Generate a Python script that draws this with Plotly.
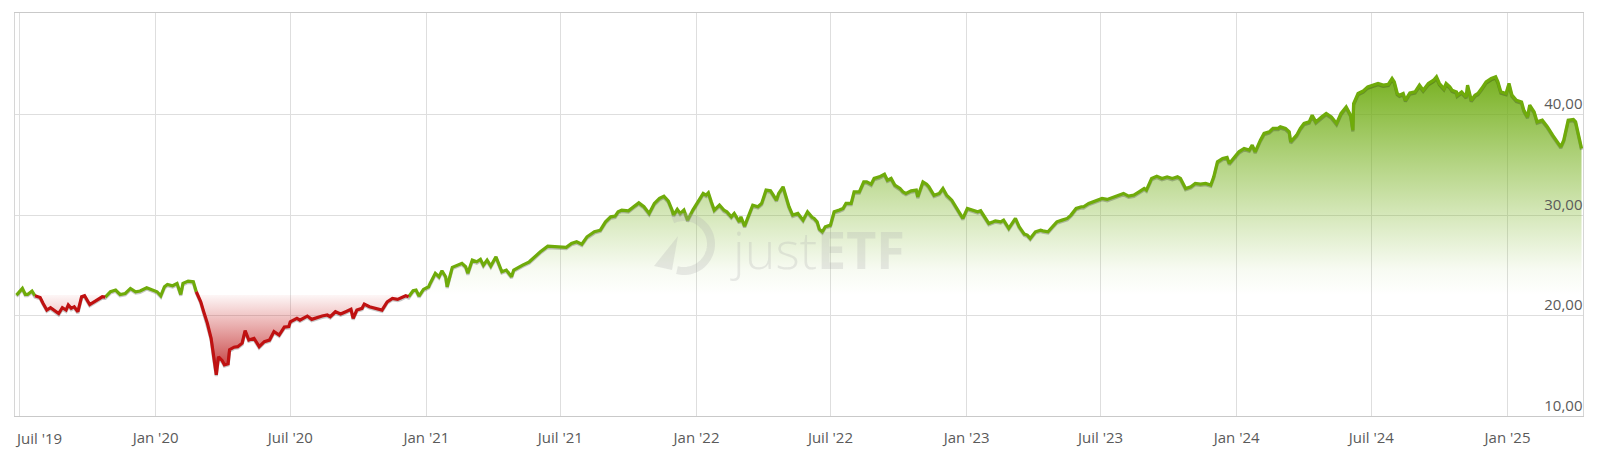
import numpy as np
import plotly.graph_objects as go

# ---------------- data ----------------
dates = [
    "2019-06-27", "2019-07-05", "2019-07-09", "2019-07-12", "2019-07-18", "2019-07-22", "2019-07-29",
    "2019-08-02", "2019-08-07", "2019-08-12", "2019-08-16", "2019-08-23", "2019-08-28",
    "2019-09-02", "2019-09-05", "2019-09-09", "2019-09-13", "2019-09-18", "2019-09-23", "2019-09-27",
    "2019-10-04", "2019-10-15", "2019-10-21", "2019-10-25", "2019-11-01", "2019-11-08", "2019-11-14",
    "2019-11-21", "2019-11-28", "2019-12-05", "2019-12-11", "2019-12-20", "2019-12-27",
    "2020-01-03", "2020-01-08", "2020-01-13", "2020-01-17", "2020-01-24", "2020-01-30",
    "2020-02-04", "2020-02-07", "2020-02-14", "2020-02-21", "2020-02-25",
    "2020-03-02", "2020-03-06", "2020-03-11", "2020-03-16", "2020-03-19", "2020-03-20", "2020-03-23",
    "2020-03-26", "2020-03-31", "2020-04-03", "2020-04-08", "2020-04-10", "2020-04-16", "2020-04-21",
    "2020-04-27", "2020-05-01", "2020-05-06", "2020-05-13", "2020-05-20", "2020-05-27",
    "2020-06-03", "2020-06-09", "2020-06-16", "2020-06-23", "2020-06-29",
    "2020-07-01", "2020-07-10", "2020-07-14", "2020-07-24", "2020-07-30", "2020-08-06", "2020-08-13",
    "2020-08-20", "2020-08-24", "2020-08-31", "2020-09-07", "2020-09-14", "2020-09-21", "2020-09-24",
    "2020-09-29", "2020-10-06", "2020-10-09", "2020-10-16", "2020-10-26", "2020-11-02", "2020-11-09",
    "2020-11-16", "2020-11-23", "2020-11-27", "2020-12-04", "2020-12-08", "2020-12-14", "2020-12-18",
    "2020-12-22", "2020-12-28",
    "2021-01-04", "2021-01-06", "2021-01-13", "2021-01-18", "2021-01-22", "2021-01-27", "2021-01-29",
    "2021-02-05", "2021-02-11", "2021-02-18", "2021-02-23", "2021-02-26", "2021-03-04", "2021-03-10",
    "2021-03-15", "2021-03-19", "2021-03-24", "2021-03-29", "2021-04-05", "2021-04-09", "2021-04-13",
    "2021-04-19", "2021-04-26", "2021-04-29", "2021-05-06", "2021-05-11", "2021-05-20", "2021-05-27",
    "2021-06-04", "2021-06-14", "2021-06-21", "2021-06-29", "2021-07-09", "2021-07-16", "2021-07-23",
    "2021-07-30", "2021-08-06", "2021-08-16", "2021-08-24", "2021-08-31", "2021-09-07", "2021-09-13",
    "2021-09-17", "2021-09-22", "2021-10-01", "2021-10-08", "2021-10-15", "2021-10-22", "2021-10-26",
    "2021-10-29", "2021-11-05", "2021-11-12", "2021-11-18", "2021-11-24", "2021-11-29", "2021-12-01",
    "2021-12-06", "2021-12-10", "2021-12-15", "2021-12-20", "2021-12-27",
    "2022-01-03", "2022-01-05", "2022-01-10", "2022-01-14", "2022-01-17", "2022-01-21", "2022-01-25",
    "2022-02-01", "2022-02-07", "2022-02-11", "2022-02-17", "2022-02-21", "2022-02-28", "2022-03-02",
    "2022-03-07", "2022-03-11", "2022-03-18", "2022-03-25", "2022-03-30", "2022-04-05", "2022-04-11",
    "2022-04-14", "2022-04-19", "2022-04-22", "2022-04-28", "2022-05-02", "2022-05-06", "2022-05-11",
    "2022-05-18", "2022-05-25", "2022-05-31", "2022-06-06", "2022-06-09", "2022-06-13", "2022-06-16",
    "2022-06-20", "2022-06-24", "2022-07-01", "2022-07-06", "2022-07-13", "2022-07-18", "2022-07-22",
    "2022-07-29", "2022-08-02", "2022-08-09", "2022-08-15", "2022-08-19", "2022-08-25", "2022-08-29",
    "2022-09-05", "2022-09-12", "2022-09-16", "2022-09-21", "2022-09-26", "2022-10-03", "2022-10-07",
    "2022-10-11", "2022-10-18", "2022-10-25", "2022-10-27", "2022-11-03", "2022-11-08", "2022-11-11",
    "2022-11-18", "2022-11-25", "2022-11-30", "2022-12-05", "2022-12-12", "2022-12-16", "2022-12-21",
    "2022-12-27",
    "2023-01-02", "2023-01-09", "2023-01-16", "2023-01-20", "2023-01-24", "2023-01-31", "2023-02-06",
    "2023-02-09", "2023-02-16", "2023-02-20", "2023-02-27", "2023-03-06", "2023-03-08", "2023-03-13",
    "2023-03-20", "2023-03-24", "2023-03-28", "2023-04-04", "2023-04-11", "2023-04-14", "2023-04-21",
    "2023-04-27", "2023-05-03", "2023-05-10", "2023-05-17", "2023-05-22", "2023-05-29", "2023-06-05",
    "2023-06-08", "2023-06-15", "2023-07-03", "2023-07-10", "2023-07-19", "2023-07-26", "2023-08-01",
    "2023-08-08", "2023-08-15", "2023-08-22", "2023-08-29", "2023-09-01", "2023-09-08", "2023-09-15",
    "2023-09-22", "2023-09-29", "2023-10-06", "2023-10-13", "2023-10-17", "2023-10-24", "2023-10-31",
    "2023-11-06", "2023-11-13", "2023-11-20", "2023-11-27", "2023-12-01", "2023-12-06", "2023-12-13",
    "2023-12-19", "2023-12-22", "2023-12-28",
    "2024-01-04", "2024-01-11", "2024-01-18", "2024-01-22", "2024-01-26", "2024-02-02", "2024-02-07",
    "2024-02-14", "2024-02-19", "2024-02-26", "2024-02-29", "2024-03-07", "2024-03-12", "2024-03-14",
    "2024-03-18", "2024-03-22", "2024-03-27", "2024-04-01", "2024-04-08", "2024-04-12", "2024-04-17",
    "2024-04-22", "2024-04-25", "2024-05-01", "2024-05-08", "2024-05-15", "2024-05-21", "2024-05-28",
    "2024-06-03", "2024-06-06", "2024-06-07", "2024-06-13", "2024-06-20", "2024-06-26", "2024-07-03",
    "2024-07-10", "2024-07-17", "2024-07-24", "2024-07-29", "2024-08-01", "2024-08-05", "2024-08-08",
    "2024-08-13", "2024-08-16", "2024-08-22", "2024-08-29", "2024-09-04", "2024-09-09", "2024-09-16",
    "2024-09-23", "2024-09-27", "2024-10-01", "2024-10-07", "2024-10-10", "2024-10-15", "2024-10-18",
    "2024-10-24", "2024-10-25", "2024-10-31", "2024-11-06", "2024-11-08", "2024-11-13", "2024-11-18",
    "2024-11-22", "2024-11-27", "2024-12-03", "2024-12-10", "2024-12-16", "2024-12-19", "2024-12-23",
    "2024-12-30",
    "2025-01-03", "2025-01-07", "2025-01-13", "2025-01-20", "2025-01-23", "2025-01-28", "2025-01-31",
    "2025-02-06", "2025-02-10", "2025-02-17", "2025-02-24", "2025-03-03", "2025-03-10", "2025-03-14",
    "2025-03-18", "2025-03-24", "2025-03-31", "2025-04-03", "2025-04-08", "2025-04-11",
]

values = [
    22.04, 22.70, 22.10, 22.10, 22.44, 21.97, 21.80,
    21.20, 20.55, 20.78, 20.55, 20.20, 20.78,
    20.55, 21.05, 20.72, 20.88, 20.38, 21.87, 21.97,
    21.10, 21.54, 21.87, 21.84, 22.37, 22.54, 22.10,
    22.20, 22.70, 22.37, 22.44, 22.77, 22.54,
    22.37, 21.97, 22.87, 23.10, 22.97, 23.20,
    22.10, 23.20, 23.43, 23.36, 22.37,
    21.37, 20.38, 19.22, 17.73, 16.07, 15.40, 14.10,
    15.90, 15.50, 15.10, 15.20, 16.60, 16.85, 16.90,
    17.25, 18.50, 17.56, 17.73, 16.90, 17.40,
    17.56, 18.40, 18.06, 18.85, 18.90,
    19.38, 19.72, 19.55, 19.95, 19.62, 19.82, 19.95,
    20.05, 19.88, 20.38, 20.15, 20.38, 20.62, 19.72,
    20.55, 20.72, 21.14, 20.88, 20.70, 20.55, 21.37,
    21.71, 21.61, 21.71, 21.97, 21.87, 22.47, 22.54,
    21.94, 22.60,
    22.87, 23.20, 24.20, 23.86, 24.46, 23.86, 22.87,
    24.80, 25.02, 25.20, 24.86, 24.20, 25.52, 25.35,
    25.60, 25.02, 25.52, 24.93, 25.85, 25.19, 24.36,
    24.53, 23.86, 24.53, 24.86, 25.02, 25.35, 25.85,
    26.35, 26.90, 26.85, 26.79, 26.79, 27.18, 27.34,
    27.11, 27.84, 28.34, 28.50, 29.33, 29.83, 29.90,
    30.33, 30.50, 30.43, 30.83, 31.22, 30.83, 30.50,
    30.17, 31.16, 31.66, 31.89, 31.40, 30.50, 30.00,
    30.57, 30.17, 30.50, 29.50, 30.50,
    31.32, 31.66, 32.16, 31.99, 32.22, 31.32, 30.50,
    31.00, 30.50, 30.33, 29.83, 30.17, 29.33, 29.83,
    28.90, 29.67, 30.99, 30.83, 31.16, 32.49, 32.42,
    32.09, 31.49, 32.16, 32.82, 31.82, 30.83, 30.00,
    30.17, 29.50, 30.33, 29.80, 29.67, 29.33, 28.60,
    28.34, 28.84, 29.00, 30.33, 30.50, 30.66, 31.16,
    31.16, 32.32, 32.32, 33.31, 33.31, 33.08, 33.65,
    33.81, 34.07, 33.48, 33.65, 32.99, 32.65, 32.32,
    32.16, 32.42, 32.49, 31.82, 33.31, 33.08, 32.82,
    31.97, 32.16, 32.65, 31.99, 31.49, 30.99, 30.50,
    29.67,
    30.66, 30.50, 30.33, 30.43, 30.00, 29.17, 29.33,
    29.43, 29.33, 29.50, 28.68, 29.50, 29.67, 28.84,
    28.11, 28.01, 27.68, 28.34, 28.50, 28.43, 28.34,
    28.84, 29.33, 29.50, 29.67, 30.00, 30.66, 30.83,
    30.83, 31.16, 31.66, 31.56, 31.82, 31.99, 32.16,
    31.89, 31.99, 32.32, 32.65, 32.49, 33.65, 33.88,
    33.65, 33.81, 33.65, 33.81, 33.65, 32.65, 32.82,
    33.15, 33.08, 33.15, 32.99, 33.81, 35.30, 35.64,
    35.74, 35.14, 35.64,
    36.30, 36.63, 36.47, 36.97, 36.30, 37.46, 38.13,
    38.29, 38.63, 38.63, 38.79, 38.63, 38.29, 37.30,
    37.63, 37.96, 38.63, 39.12, 39.28, 39.95, 39.28,
    39.62, 39.78, 40.12, 39.78, 39.12, 40.12, 40.78,
    39.95, 38.46, 41.11, 42.11, 42.37, 42.77, 42.94,
    43.10, 42.94, 43.03, 43.60, 43.27, 42.11, 41.94,
    42.11, 41.44, 42.17, 42.27, 42.94, 42.44, 43.10,
    43.43, 43.77, 43.10, 42.60, 43.10, 42.77, 42.44,
    42.27, 41.94, 42.27, 41.77, 42.94, 41.44, 41.94,
    42.11, 42.60, 43.27, 43.60, 43.77, 43.27, 42.27,
    42.11,
    43.10, 41.94, 41.44, 41.27, 40.45, 39.78, 40.95,
    40.28, 39.28, 39.45, 38.79, 37.96, 37.30, 36.80,
    37.46, 39.45, 39.52, 39.28, 37.63, 36.63,
]

x_tick_dates = ["2019-07-01", "2020-01-01", "2020-07-01", "2021-01-01", "2021-07-01", "2022-01-01",
                "2022-07-01", "2023-01-01", "2023-07-01", "2024-01-01", "2024-07-01", "2025-01-01"]
x_tick_labels = ["Juil '19", "Jan '20", "Juil '20", "Jan '21", "Juil '21", "Jan '22",
                 "Juil '22", "Jan '23", "Juil '23", "Jan '24", "Juil '24", "Jan '25"]
y_tick_values = [10, 20, 30, 40]
y_tick_labels = ["10,00", "20,00", "30,00", "40,00"]

# ---------------- styling ----------------
GREEN = "#6fab0a"
RED = "#bf1111"
GRID = "#dedede"
TEXT = "#5a5a5a"
FONT = "Open Sans"

vals = np.array(values, dtype=float)
base = float(vals[0])
vmax = float(vals.max())
vmin = float(vals.min())
n = len(vals)

upper = np.maximum(vals, base)
lower = np.minimum(vals, base)

# split line into green (>= start value) and red (< start value) runs
seg_col = ["g" if (vals[i] + vals[i + 1]) / 2 >= base else "r" for i in range(n - 1)]


def runs(code):
    xs, ys = [], []
    i = 0
    while i < n - 1:
        if seg_col[i] == code:
            j = i
            while j < n - 1 and seg_col[j] == code:
                j += 1
            xs += dates[i:j + 1] + [None]
            ys += list(vals[i:j + 1]) + [None]
            i = j
        else:
            i += 1
    return xs, ys


gx, gy = runs("g")
rx, ry = runs("r")

fig = go.Figure()

# green area (baseline -> price)
fig.add_trace(go.Scatter(x=dates, y=[base] * n, mode="lines", line=dict(width=0),
                         hoverinfo="skip", showlegend=False))
fig.add_trace(go.Scatter(
    x=dates, y=upper, mode="lines", line=dict(width=0), fill="tonexty",
    fillgradient=dict(type="vertical",
                      colorscale=[[0, "rgba(120,180,30,0.0)"], [0.12, "rgba(120,180,30,0.06)"],
                                  [1, "rgba(108,170,14,0.92)"]],
                      start=base, stop=vmax),
    hoverinfo="skip", showlegend=False))

# red area (price -> baseline)
fig.add_trace(go.Scatter(x=dates, y=[base] * n, mode="lines", line=dict(width=0),
                         hoverinfo="skip", showlegend=False))
fig.add_trace(go.Scatter(
    x=dates, y=lower, mode="lines", line=dict(width=0), fill="tonexty",
    fillgradient=dict(type="vertical",
                      colorscale=[[0, "rgba(180,20,20,0.88)"], [1, "rgba(205,40,40,0.04)"]],
                      start=vmin, stop=base),
    hoverinfo="skip", showlegend=False))

# soft drop shadow under the line
fig.add_trace(go.Scatter(x=dates, y=vals - 0.13, mode="lines",
                         line=dict(color="rgba(0,0,0,0.22)", width=3.2),
                         hoverinfo="skip", showlegend=False))

fig.add_trace(go.Scatter(x=gx, y=gy, mode="lines", line=dict(color=GREEN, width=3.2),
                         connectgaps=False, showlegend=False))
fig.add_trace(go.Scatter(x=rx, y=ry, mode="lines", line=dict(color=RED, width=3.2),
                         connectgaps=False, showlegend=False))

# ---------------- watermark ----------------
PL, PR, PT, PB = 15, 1583, 13, 416


def pp(px, py):
    return (px - PL) / (PR - PL), (PB - py) / (PB - PT)


wm = "rgba(175,175,175,0.26)"
ang = np.linspace(np.deg2rad(115), np.deg2rad(-105), 40)
cx, cy, r = 684, 244, 27
pts = [pp(cx + r * np.cos(a), cy - r * np.sin(a)) for a in ang]
arc = "M " + " L ".join(f"{x:.5f},{y:.5f}" for x, y in pts)
fig.add_shape(type="path", path=arc, xref="paper", yref="paper",
              line=dict(color=wm, width=8), layer="above")
tri = [pp(654, 266), pp(678, 236), pp(672, 270)]
fig.add_shape(type="path", path="M " + " L ".join(f"{x:.5f},{y:.5f}" for x, y in tri) + " Z",
              xref="paper", yref="paper", line=dict(width=0), fillcolor=wm, layer="above")
tx, ty = pp(817, 248)
fig.add_annotation(x=tx, y=ty, xref="paper", yref="paper", text="just<b>ETF</b>",
                   showarrow=False, xanchor="center", yanchor="middle",
                   font=dict(family=FONT, size=52, color=wm, weight=300))

# first x label is pushed inside the chart edge (as in the reference)
shown_labels = [""] + x_tick_labels[1:]
fig.add_annotation(x=0, y=0, xref="paper", yref="paper", text=x_tick_labels[0],
                   showarrow=False, xanchor="left", yanchor="top", yshift=-10, xshift=-2,
                   font=dict(family=FONT, size=15, color=TEXT))

fig.update_layout(
    width=1600, height=472,
    margin=dict(l=PL, r=1600 - PR, t=PT, b=472 - PB, pad=0),
    paper_bgcolor="white", plot_bgcolor="white",
    font=dict(family=FONT, size=15, color=TEXT),
    showlegend=False,
    xaxis=dict(type="date", range=["2019-06-25", "2025-04-13"],
               tickmode="array", tickvals=x_tick_dates, ticktext=shown_labels,
               showgrid=True, gridcolor=GRID, gridwidth=1,
               showline=True, linecolor="#c9c9c9", linewidth=1, mirror=True,
               ticks="", ticklabelstandoff=8, zeroline=False,
               tickfont=dict(family=FONT, size=15, color=TEXT)),
    yaxis=dict(range=[10, 50.12], side="right", tickmode="array",
               tickvals=y_tick_values, ticktext=y_tick_labels,
               ticklabelposition="inside top",
               showgrid=True, gridcolor=GRID, gridwidth=1,
               showline=True, linecolor="#d6d6d6", linewidth=1, mirror=True,
               ticks="", zeroline=False,
               tickfont=dict(family=FONT, size=15, color=TEXT)),
)

fig.write_html("out.html", post_script="document.body.style.margin='0';",
               config={"displayModeBar": False})
